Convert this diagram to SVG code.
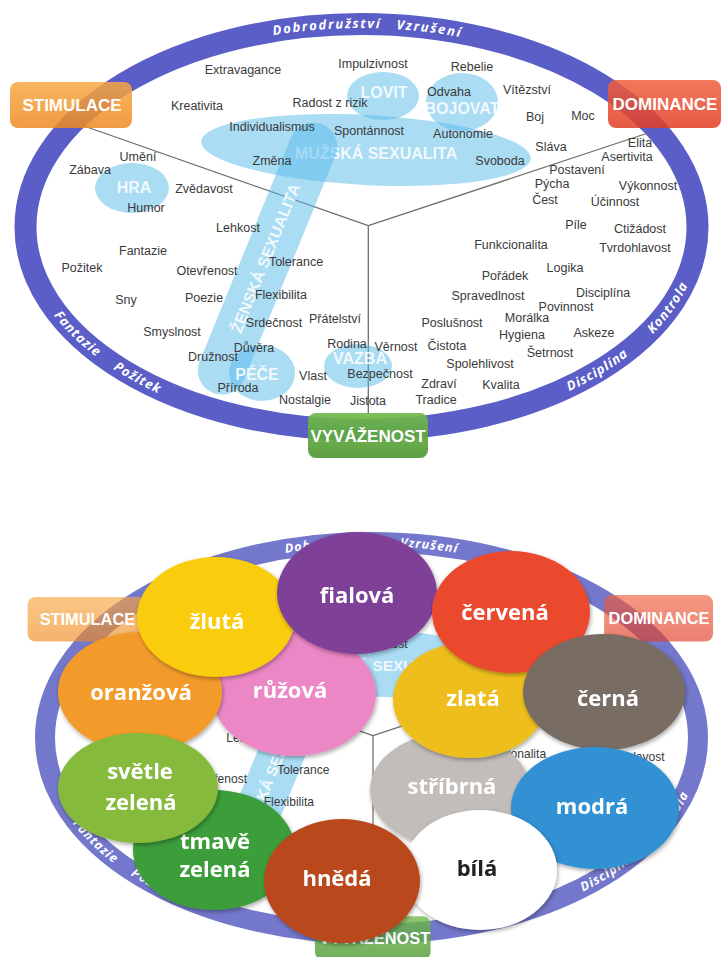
<svg xmlns="http://www.w3.org/2000/svg" width="723" height="957" viewBox="0 0 723 957">
<defs>
<style>
.ring{fill:none;stroke:#5a5ec6;stroke-width:22}
.ring2{fill:none;stroke:#7478cc;stroke-width:20}
.rt{font-family:"Open Sans","Liberation Sans",sans-serif;font-weight:700;font-style:italic;font-size:13px;fill:#fff;letter-spacing:1px;text-anchor:middle}
.rtw{letter-spacing:1.7px}
.rt2{font-family:"Open Sans","Liberation Sans",sans-serif;font-weight:700;font-style:italic;font-size:12.5px;fill:#fff;letter-spacing:1px;text-anchor:middle}
.w{font-family:"Liberation Sans",Arial,sans-serif;font-size:12.5px;fill:#3a3a3a;text-anchor:middle}
.blob{fill:#55b9ea;fill-opacity:.5}
.bl{font-family:"Liberation Sans",Arial,sans-serif;font-weight:700;font-size:16px;fill:#fff;fill-opacity:.85;text-anchor:middle}
.div{stroke:#6e6e6e;stroke-width:1.3;fill:none}
.bx{font-family:"Liberation Sans",Arial,sans-serif;font-weight:700;font-size:17px;fill:#fff;text-anchor:middle}
.ov{filter:url(#sh)}
.ot{font-family:"Open Sans","Liberation Sans",sans-serif;font-weight:700;font-size:22px;fill:#fff;text-anchor:middle}
.dark{fill:#222}
</style>
<linearGradient id="gOr" x1="0" y1="0" x2="0" y2="1"><stop offset="0" stop-color="#f7a843"/><stop offset="1" stop-color="#ee8a22"/></linearGradient>
<linearGradient id="gRe" x1="0" y1="0" x2="0" y2="1"><stop offset="0" stop-color="#f0603e"/><stop offset="1" stop-color="#e23c24"/></linearGradient>
<linearGradient id="gGr" x1="0" y1="0" x2="0" y2="1"><stop offset="0" stop-color="#72bb4c"/><stop offset="1" stop-color="#4e9833"/></linearGradient>
<filter id="sh" x="-15%" y="-15%" width="135%" height="140%"><feDropShadow dx="1" dy="2" stdDeviation="2.2" flood-color="#000" flood-opacity=".35"/></filter>
<!-- baselines for the lettering on the rings -->
<path id="tt" d="M 29.5,227 A 332,199 0 0 1 693.5,227"/>
<path id="tb" d="M 21.5,227 A 340,207.5 0 0 0 701.5,227"/>
<path id="bt" d="M 49,738 A 322.5,192 0 0 1 694,738"/>
<path id="bb" d="M 41,738 A 330.5,200 0 0 0 702,738"/>
</defs>

<rect width="723" height="957" fill="#fff"/>

<!-- ============ upper diagram ============ -->
<g id="upper">
  <ellipse class="ring" cx="361.5" cy="227" rx="336" ry="203"/>
  <text class="rt rtw"><textPath href="#tt" startOffset="389">Dobrodružství</textPath></text>
  <text class="rt rtw"><textPath href="#tt" startOffset="491">Vzrušení</textPath></text>
  <text class="rt"><textPath href="#tb" startOffset="126">Fantazie</textPath></text>
  <text class="rt"><textPath href="#tb" startOffset="202">Požitek</textPath></text>
  <text class="rt"><textPath href="#tb" startOffset="685">Disciplína</textPath></text>
  <text class="rt"><textPath href="#tb" startOffset="782">Kontrola</textPath></text>

  <g id="connectors">
    <line class="div" x1="368.3" y1="225.7" x2="84" y2="126"/>
    <line class="div" x1="368.3" y1="225.7" x2="648" y2="133"/>
    <line class="div" x1="368.3" y1="225.7" x2="368.3" y2="414"/>
  </g>

  <g id="blob-muzska">
    <ellipse class="blob" cx="366" cy="150" rx="165" ry="35" transform="rotate(3 366 150)"/>
    <text class="bl" x="376" y="159">MUŽSKÁ SEXUALITA</text>
  </g>
  <g id="blob-zenska">
    <rect class="blob" x="-24" y="-145" width="48" height="290" rx="24" transform="translate(267.5 258.5) rotate(22.2)"/>
    <text class="bl" x="0" y="6" transform="translate(265 258) rotate(-68)">ŽENSKÁ SEXUALITA</text>
  </g>
  <g id="blob-lovit">
    <ellipse class="blob" cx="383" cy="96" rx="36" ry="24"/>
    <text class="bl" x="384" y="98">LOVIT</text>
  </g>
  <g id="blob-bojovat">
    <ellipse class="blob" cx="462" cy="102" rx="36" ry="29"/>
    <text class="bl" x="462" y="114">BOJOVAT</text>
  </g>
  <g id="blob-hra">
    <ellipse class="blob" cx="132" cy="188" rx="37" ry="25"/>
    <text class="bl" x="134" y="193">HRA</text>
  </g>
  <g id="blob-pece">
    <ellipse class="blob" cx="262" cy="373" rx="33" ry="28"/>
    <text class="bl" x="257" y="380">PÉČE</text>
  </g>
  <g id="blob-vazba">
    <ellipse class="blob" cx="358" cy="366" rx="34" ry="22"/>
    <text class="bl" x="360" y="364">VAZBA</text>
  </g>

  <g id="words-stimulace">
    <text class="w" x="243" y="74">Extravagance</text>
    <text class="w" x="197" y="110">Kreativita</text>
    <text class="w" x="272" y="131">Individualismus</text>
    <text class="w" x="272" y="165">Změna</text>
    <text class="w" x="138" y="161">Umění</text>
    <text class="w" x="90" y="174">Zábava</text>
    <text class="w" x="204" y="193">Zvědavost</text>
    <text class="w" x="146" y="212">Humor</text>
    <text class="w" x="238" y="232">Lehkost</text>
    <text class="w" x="143" y="255">Fantazie</text>
    <text class="w" x="82" y="272">Požitek</text>
    <text class="w" x="207" y="275">Otevřenost</text>
    <text class="w" x="126" y="304">Sny</text>
    <text class="w" x="204" y="302">Poezie</text>
    <text class="w" x="172" y="336">Smyslnost</text>
    <text class="w" x="213" y="361">Družnost</text>
    <text class="w" x="254" y="352">Důvěra</text>
    <text class="w" x="238" y="392">Příroda</text>
    <text class="w" x="296" y="266">Tolerance</text>
    <text class="w" x="281" y="299">Flexibilita</text>
    <text class="w" x="274" y="327">Srdečnost</text>
    <text class="w" x="335" y="323">Přátelství</text>
    <text class="w" x="347" y="348">Rodina</text>
    <text class="w" x="313" y="380">Vlast</text>
    <text class="w" x="305" y="404">Nostalgie</text>
    <text class="w" x="368" y="405">Jistota</text>
    <text class="w" x="380" y="378">Bezpečnost</text>
  </g>
  <g id="words-dominance">
    <text class="w" x="373" y="68">Impulzivnost</text>
    <text class="w" x="472" y="71">Rebelie</text>
    <text class="w" x="330" y="107">Radost z rizik</text>
    <text class="w" x="449" y="96">Odvaha</text>
    <text class="w" x="527" y="94">Vítězství</text>
    <text class="w" x="535" y="121">Boj</text>
    <text class="w" x="583" y="120">Moc</text>
    <text class="w" x="369" y="135">Spontánnost</text>
    <text class="w" x="463" y="138">Autonomie</text>
    <text class="w" x="551" y="151">Sláva</text>
    <text class="w" x="500" y="165">Svoboda</text>
    <text class="w" x="640" y="147">Elita</text>
    <text class="w" x="627" y="161">Asertivita</text>
    <text class="w" x="577" y="174">Postavení</text>
    <text class="w" x="552" y="188">Pýcha</text>
    <text class="w" x="648" y="190">Výkonnost</text>
    <text class="w" x="545" y="204">Čest</text>
    <text class="w" x="615" y="206">Účinnost</text>
  </g>
  <g id="words-kontrola">
    <text class="w" x="576" y="229">Píle</text>
    <text class="w" x="640" y="233">Ctižádost</text>
    <text class="w" x="511" y="249">Funkcionalita</text>
    <text class="w" x="635" y="252">Tvrdohlavost</text>
    <text class="w" x="565" y="272">Logika</text>
    <text class="w" x="505" y="280">Pořádek</text>
    <text class="w" x="488" y="300">Spravedlnost</text>
    <text class="w" x="603" y="297">Disciplína</text>
    <text class="w" x="566" y="311">Povinnost</text>
    <text class="w" x="527" y="322">Morálka</text>
    <text class="w" x="452" y="327">Poslušnost</text>
    <text class="w" x="522" y="339">Hygiena</text>
    <text class="w" x="594" y="337">Askeze</text>
    <text class="w" x="396" y="351">Věrnost</text>
    <text class="w" x="447" y="350">Čistota</text>
    <text class="w" x="550" y="357">Šetrnost</text>
    <text class="w" x="480" y="368">Spolehlivost</text>
    <text class="w" x="439" y="388">Zdraví</text>
    <text class="w" x="501" y="389">Kvalita</text>
    <text class="w" x="436" y="404">Tradice</text>
  </g>

  <g id="box-stimulace">
    <rect x="10" y="82" width="122" height="46" rx="8" fill="url(#gOr)" opacity=".85"/>
    <text class="bx" x="72" y="111">STIMULACE</text>
  </g>
  <g id="box-dominance">
    <rect x="608" y="80" width="113" height="48" rx="8" fill="url(#gRe)" opacity=".85"/>
    <text class="bx" x="665" y="110">DOMINANCE</text>
  </g>
  <g id="box-vyvazenost">
    <rect x="308" y="413" width="120" height="45" rx="8" fill="url(#gGr)" opacity=".92"/>
    <text class="bx" x="368" y="442">VYVÁŽENOST</text>
  </g>
</g>

<!-- ============ lower diagram: same frame, covered by colour ovals ============ -->
<g id="lower">
  <ellipse class="ring2" cx="371.5" cy="738" rx="326.5" ry="196"/>
  <text class="rt2"><textPath href="#bt" startOffset="372">Dobrodružství</textPath></text>
  <text class="rt2"><textPath href="#bt" startOffset="468">Vzrušení</textPath></text>
  <text class="rt2"><textPath href="#bb" startOffset="122">Fantazie</textPath></text>
  <text class="rt2"><textPath href="#bb" startOffset="196">Požitek</textPath></text>
  <text class="rt2"><textPath href="#bb" startOffset="675">Disciplína</textPath></text>
  <text class="rt2"><textPath href="#bb" startOffset="758">Kontrola</textPath></text>

  <g transform="translate(18 518) scale(0.964)">
    <g id="connectors-lower">
      <line class="div" x1="368.3" y1="225.7" x2="84" y2="126"/>
      <line class="div" x1="368.3" y1="225.7" x2="648" y2="133"/>
      <line class="div" x1="368.3" y1="225.7" x2="368.3" y2="414"/>
    </g>
    <g id="blob-muzska-lower">
      <ellipse class="blob" cx="366" cy="150" rx="165" ry="35" transform="rotate(3 366 150)"/>
      <text class="bl" x="376" y="159">MUŽSKÁ SEXUALITA</text>
    </g>
    <g id="blob-zenska-lower">
      <rect class="blob" x="-24" y="-145" width="48" height="290" rx="24" transform="translate(267.5 258.5) rotate(22.2)"/>
      <text class="bl" x="0" y="6" transform="translate(265 258) rotate(-68)">ŽENSKÁ SEXUALITA</text>
    </g>
    <g id="words-lower">
      <text class="w" x="238" y="232">Lehkost</text>
      <text class="w" x="207" y="275">Otevřenost</text>
      <text class="w" x="296" y="266">Tolerance</text>
      <text class="w" x="281" y="299">Flexibilita</text>
      <text class="w" x="369" y="135">Spontánnost</text>
      <text class="w" x="511" y="249">Funkcionalita</text>
      <text class="w" x="635" y="252">Tvrdohlavost</text>
    </g>
    <g id="box-stimulace-lower">
      <rect x="10" y="82" width="122" height="46" rx="8" fill="url(#gOr)" opacity=".65"/>
      <text class="bx" x="72" y="111">STIMULACE</text>
    </g>
    <g id="box-dominance-lower">
      <rect x="608" y="80" width="113" height="48" rx="8" fill="url(#gRe)" opacity=".65"/>
      <text class="bx" x="665" y="110">DOMINANCE</text>
    </g>
    <g id="box-vyvazenost-lower">
      <rect x="308" y="413" width="120" height="45" rx="8" fill="url(#gGr)" opacity=".8"/>
      <text class="bx" x="370" y="442">VYVÁŽENOST</text>
    </g>
  </g>

  <g id="ovals">
    <g id="ruzova" class="ov"><ellipse cx="294" cy="694" rx="82" ry="62" fill="#ec87c5"/><text class="ot" x="290" y="698">růžová</text></g>
    <g id="oranzova" class="ov"><ellipse cx="140" cy="692" rx="82" ry="60" fill="#f39b2a"/><text class="ot" x="141" y="700">oranžová</text></g>
    <g id="zluta" class="ov"><ellipse cx="216" cy="617" rx="79" ry="60" fill="#f9cc0a"/><text class="ot" x="217" y="629">žlutá</text></g>
    <g id="fialova" class="ov"><ellipse cx="357" cy="593" rx="80" ry="61" fill="#7f3f98"/><text class="ot" x="357" y="603">fialová</text></g>
    <g id="stribrna" class="ov"><ellipse cx="450" cy="790" rx="80" ry="57" fill="#c2bdb9"/><text class="ot" x="452" y="794">stříbrná</text></g>
    <g id="zlata" class="ov"><ellipse cx="470" cy="700" rx="77" ry="58" fill="#eebf1b"/><text class="ot" x="473" y="706">zlatá</text></g>
    <g id="cervena" class="ov"><ellipse cx="511" cy="612" rx="79" ry="61" fill="#ea4a2f"/><text class="ot" x="505" y="620">červená</text></g>
    <g id="cerna" class="ov"><ellipse cx="604" cy="692" rx="81" ry="58" fill="#786c64"/><text class="ot" x="608" y="706">černá</text></g>
    <g id="modra" class="ov"><ellipse cx="595" cy="808" rx="84" ry="61" fill="#3191d3"/><text class="ot" x="592" y="814">modrá</text></g>
    <g id="bila" class="ov"><ellipse cx="480" cy="870" rx="77" ry="60" fill="#ffffff"/><text class="ot dark" x="477" y="876">bílá</text></g>
    <g id="tmave-zelena" class="ov"><ellipse cx="214" cy="850" rx="81" ry="60" fill="#3a9e3a"/><text class="ot" x="215" y="849">tmavě</text><text class="ot" x="215" y="877">zelená</text></g>
    <g id="svetle-zelena" class="ov"><ellipse cx="138" cy="788" rx="80" ry="55" fill="#86ba3c"/><text class="ot" x="140" y="779">světle</text><text class="ot" x="141" y="810">zelená</text></g>
    <g id="hneda" class="ov"><ellipse cx="342" cy="881" rx="78" ry="62" fill="#b9481f"/><text class="ot" x="337" y="886">hnědá</text></g>
  </g>
</g>
</svg>
